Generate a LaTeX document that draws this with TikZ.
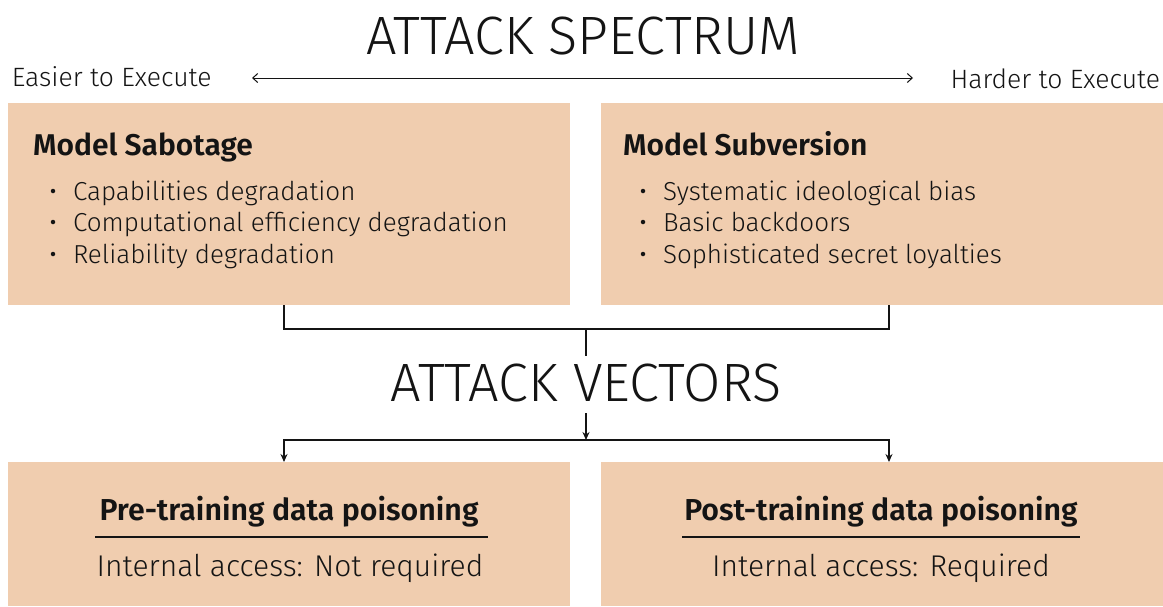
\documentclass[tikz,border=0pt]{standalone}
\usepackage{fontspec}
\setmainfont{Fira Sans}[UprightFont={* Light}, BoldFont={* SemiBold}]
\usetikzlibrary{arrows.meta}
\definecolor{peach}{RGB}{240,205,175}
\definecolor{ink}{RGB}{20,20,20}
\begin{document}
\begin{tikzpicture}[x=1pt,y=-1pt,
  box/.style={fill=peach, draw=none, inner sep=0pt, outer sep=0pt, anchor=north west},
  txt/.style={inner sep=0pt, outer sep=0pt, text=ink},
  title/.style={txt, font=\fontsize{54}{58}\selectfont},
  side/.style={txt, font=\fontsize{26.5}{29}\selectfont},
  head/.style={txt, font=\bfseries\fontsize{30}{33}\selectfont},
  item/.style={txt, font=\fontsize{26}{29}\selectfont, anchor=base west},
  dot/.style={circle, fill=ink, inner sep=0pt, minimum size=4.5pt},
  vhead/.style={txt, font=\bfseries\fontsize{30.3}{33}\selectfont, anchor=base},
  vbody/.style={txt, font=\fontsize{30}{33}\selectfont, anchor=base},
  conn/.style={line width=1.4pt, draw=ink},
  rule/.style={line width=1.2pt, draw=ink}
]
\useasboundingbox (0,0) rectangle (1163,606);
\fill[white] (0,0) rectangle (1163,606);

% boxes
\node[box, minimum width=562pt, minimum height=202pt] (sab) at (8,103) {};
\node[box, minimum width=562pt, minimum height=202pt] (sub) at (601,103) {};
\node[box, minimum width=562pt, minimum height=144pt] (pre) at (8,462) {};
\node[box, minimum width=562pt, minimum height=144pt] (post) at (601,462) {};

% top title and spectrum
\node[title, anchor=base] (spec) at (583,54) {ATTACK SPECTRUM};
\node[side, anchor=base west] (easy) at (12,86) {Easier to Execute};
\node[side, anchor=base east] (hard) at (1160,88) {Harder to Execute};
\coordinate (al) at (252,78);
\coordinate (ar) at (913,78);
\draw[line width=1pt, draw=ink, {Straight Barb[length=5pt,width=9pt]}-{Straight Barb[length=5pt,width=9pt]}] (al) -- (ar);

% Model Sabotage
\node[head, anchor=base west] (sabh) at (33,155) {Model Sabotage};
\node[dot] (sd1) at (53,191) {};
\node[item] (si1) at (73,200) {Capabilities degradation};
\node[dot] (sd2) at (53,222) {};
\node[item] (si2) at (73,231) {Computational efficiency degradation};
\node[dot] (sd3) at (53,254) {};
\node[item] (si3) at (73,263) {Reliability degradation};

% Model Subversion
\node[head, anchor=base west] (subh) at (623,155) {Model Subversion};
\node[dot] (ud1) at (643,191) {};
\node[item] (ui1) at (663,200) {Systematic ideological bias};
\node[dot] (ud2) at (643,222) {};
\node[item] (ui2) at (663,231) {Basic backdoors};
\node[dot] (ud3) at (643,254) {};
\node[item] (ui3) at (663,263) {Sophisticated secret loyalties};

% attack vectors
\node[title, anchor=base] (vec) at (586,401) {ATTACK VECTORS};

% connectors
\coordinate (sabout) at (284,305);
\coordinate (subout) at (889,305);
\coordinate (j1) at (586,329);
\coordinate (j1end) at (586,356);
\coordinate (j2start) at (586,413);
\coordinate (j2) at (586,440);
\coordinate (prein) at (284,462);
\coordinate (postin) at (889,462);
\draw[conn] (sabout) |- (j1) -| (subout);
\draw[conn] (j1) -- (j1end);
\draw[conn, -{Stealth[length=8pt,width=7pt]}] (j2start) -- (j2);
\draw[conn, -{Stealth[length=8pt,width=7pt]}] (j2) -| (prein);
\draw[conn, -{Stealth[length=8pt,width=7pt]}] (j2) -| (postin);

% bottom boxes
\node[vhead] (preh) at (289,520) {Pre-training data poisoning};
\draw[rule] (95,537) -- (488,537);
\node[vbody] (preb) at (290,576) {Internal access: Not required};
\node[vhead] (posth) at (881,520) {Post-training data poisoning};
\draw[rule] (682,537) -- (1080,537);
\node[vbody] (postb) at (881,576) {Internal access: Required};
\end{tikzpicture}
\end{document}
